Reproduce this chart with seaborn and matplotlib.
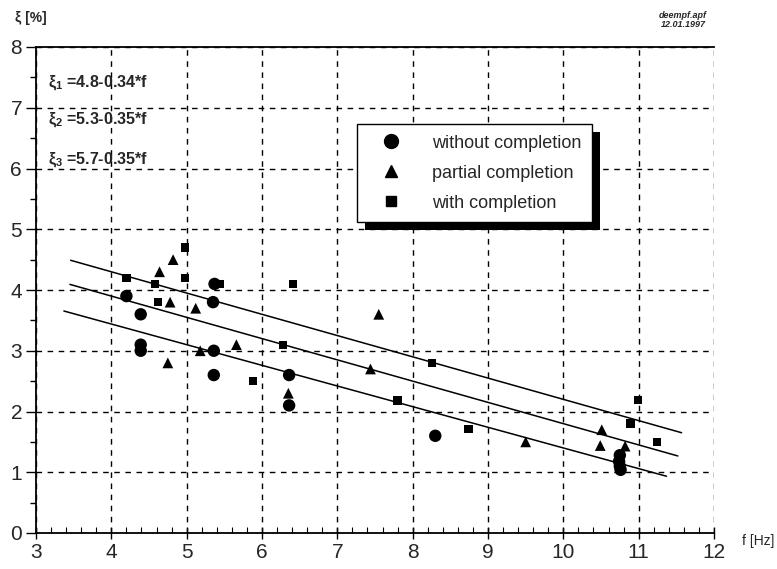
import numpy as np
import pandas as pd
import matplotlib
matplotlib.use("Agg")
import matplotlib.pyplot as plt
from matplotlib.patches import Rectangle
from matplotlib.transforms import IdentityTransform
from matplotlib.ticker import MultipleLocator
import seaborn as sns

# ---- data ----
circ_f = [4.20, 4.39, 4.39, 4.39, 5.37, 5.35, 5.36, 5.36, 6.36, 6.36, 8.30, 10.75, 10.74, 10.75, 10.76]
circ_xi = [3.90, 3.60, 3.10, 3.00, 4.10, 3.80, 3.00, 2.60, 2.60, 2.10, 1.60, 1.28, 1.18, 1.10, 1.04]
tri_f = [4.64, 4.82, 4.78, 5.12, 5.66, 5.18, 4.75, 6.35, 7.55, 7.44, 9.50, 10.51, 10.49, 10.82]
tri_xi = [4.30, 4.50, 3.80, 3.70, 3.10, 3.00, 2.80, 2.30, 3.60, 2.70, 1.50, 1.70, 1.44, 1.43]
sq_f = [4.20, 4.58, 4.98, 4.98, 5.44, 6.41, 4.62, 6.28, 5.88, 8.26, 7.80, 8.74, 10.99, 10.89, 11.24]
sq_xi = [4.20, 4.10, 4.70, 4.20, 4.10, 4.10, 3.80, 3.10, 2.50, 2.80, 2.18, 1.71, 2.19, 1.80, 1.50]
labels = ["without completion", "partial completion", "with completion"]

# regression lines xi = a - b*f
line_a = [4.8, 5.3, 5.7]
line_b = [0.34, 0.35, 0.35]
line_f0 = [3.37, 3.45, 3.46]
line_f1 = [11.37, 11.52, 11.57]
eq_texts = ["4.8-0.34*f", "5.3-0.35*f", "5.7-0.35*f"]

x_ticks = [3, 4, 5, 6, 7, 8, 9, 10, 11, 12]
y_ticks = [0, 1, 2, 3, 4, 5, 6, 7, 8]

df = pd.DataFrame({
    "f": circ_f + tri_f + sq_f,
    "xi": circ_xi + tri_xi + sq_xi,
    "type": [labels[0]] * len(circ_f) + [labels[1]] * len(tri_f) + [labels[2]] * len(sq_f),
})

sns.set_theme(style="white")
plt.rcParams["font.family"] = ["Liberation Sans", "DejaVu Sans"]
plt.rcParams["mathtext.fontset"] = "custom"
plt.rcParams["mathtext.rm"] = "Liberation Sans:bold"
plt.rcParams["mathtext.it"] = "Liberation Sans:bold"
plt.rcParams["mathtext.default"] = "regular"

fig = plt.figure(figsize=(7.77, 5.69), dpi=100)
ax = fig.add_axes([36 / 777, 1 - 533 / 569, (714 - 36) / 777, (533 - 47) / 569])

# regression lines
for a, b, f0, f1 in zip(line_a, line_b, line_f0, line_f1):
    fx = np.array([f0, f1])
    ax.plot(fx, a - b * fx, color="black", lw=1.1, zorder=3)

sns.scatterplot(
    data=df, x="f", y="xi", hue="type", style="type",
    hue_order=labels, style_order=labels,
    palette=["black", "black", "black"],
    markers={labels[0]: "o", labels[1]: "^", labels[2]: "s"},
    size="type", sizes={labels[0]: 80, labels[1]: 60, labels[2]: 36},
    linewidth=0, ax=ax, zorder=4, legend=False,
)

ax.set_xlim(3, 12)
ax.set_ylim(0, 8)
ax.set_xticks(x_ticks)
ax.set_yticks(y_ticks)
ax.xaxis.set_minor_locator(MultipleLocator(0.2))
ax.yaxis.set_minor_locator(MultipleLocator(0.5))
ax.tick_params(axis="y", which="major", direction="out", length=7, width=1, color="black",
               labelsize=15, pad=3, left=True)
ax.tick_params(axis="y", which="minor", direction="out", length=4, width=1, color="black", left=True)
ax.tick_params(axis="x", which="major", direction="inout", length=8, width=1, color="black",
               labelsize=15, pad=3, bottom=True)
ax.tick_params(axis="x", which="minor", direction="in", length=4, width=0.8, color="black", bottom=True)
ax.set_xlabel("")
ax.set_ylabel("")

ax.grid(True, which="major", color="black", linestyle=(0, (4, 4)), linewidth=1.0)
for s in ["left", "bottom", "top"]:
    ax.spines[s].set_visible(True)
    ax.spines[s].set_color("black")
    ax.spines[s].set_linewidth(1.3)
ax.spines["right"].set_visible(False)

# legend
handles = [
    plt.Line2D([], [], marker="o", color="black", linestyle="none", markersize=10),
    plt.Line2D([], [], marker="^", color="black", linestyle="none", markersize=8.5),
    plt.Line2D([], [], marker="s", color="black", linestyle="none", markersize=6.5),
]
leg = ax.legend(handles, labels, loc="upper left", bbox_to_anchor=(0.473, 0.842),
                borderaxespad=0, frameon=True, fancybox=False, fontsize=13,
                handletextpad=0.97, labelspacing=0.72, borderpad=0.6, handlelength=2.6)
leg.get_frame().set_edgecolor("black")
leg.get_frame().set_linewidth(1.0)
leg.get_frame().set_alpha(1)
leg.set_zorder(6)

# equations
eq_y = [7.42, 6.80, 6.14]
for i, (txt, yy) in enumerate(zip(eq_texts, eq_y)):
    ax.text(3.16, yy, "ξ$_{%d}$ =%s" % (i + 1, txt), fontsize=11.5, fontweight="bold",
            va="center", ha="left", zorder=5)

fig.text(15 / 777, 1 - 18 / 569, "ξ [%]", fontsize=10, fontweight="bold", va="center", ha="left")
fig.text(742 / 777, 1 - 541 / 569, "f [Hz]", fontsize=10, va="center", ha="left")
fig.text(683 / 777, 1 - 20 / 569, "deempf.apf\n12.01.1997", fontsize=6.5, fontweight="bold",
         style="italic", va="center", ha="center", linespacing=0.95)

# legend shadow
fig.canvas.draw()
bb = leg.get_window_extent()
shadow = Rectangle((bb.x0 + 8, bb.y0 - 8), bb.width, bb.height, transform=IdentityTransform(),
                   facecolor="black", edgecolor="none", zorder=5.5, clip_on=False)
ax.add_patch(shadow)

fig.savefig("out.png", dpi=100)
